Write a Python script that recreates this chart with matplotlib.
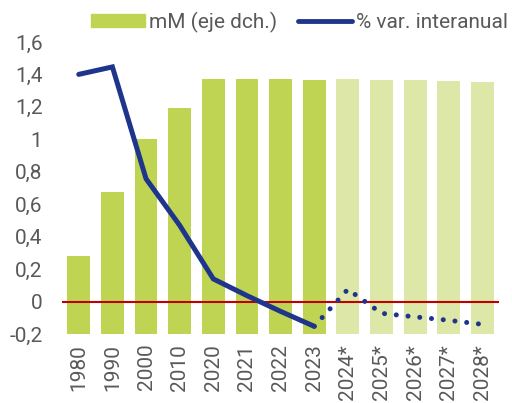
import numpy as np
import matplotlib.pyplot as plt
from matplotlib.patches import Patch
from matplotlib.lines import Line2D

plt.rcParams['font.family'] = ['Roboto', 'DejaVu Sans']

# data
years = ['1980', '1990', '2000', '2010', '2020', '2021', '2022', '2023',
         '2024*', '2025*', '2026*', '2027*', '2028*']
pop_mm = [0.986, 1.141, 1.268, 1.341, 1.411, 1.411, 1.411, 1.408,
          1.411, 1.409, 1.409, 1.407, 1.404]
var_hist = [1.40, 1.446, 0.757, 0.47, 0.14, 0.037, -0.06, -0.152]
var_proj = [-0.152, 0.076, -0.072, -0.094, -0.115, -0.14]
n_hist = 8

yticks = [-0.2, 0, 0.2, 0.4, 0.6, 0.8, 1, 1.2, 1.4, 1.6]
ytick_labels = ['-0,2', '0', '0,2', '0,4', '0,6', '0,8', '1', '1,2', '1,4', '1,6']

bar_col = '#BFD452'
bar_col_light = '#DDE8A8'
line_col = '#1F358C'
red = '#C00000'
txt_col = '#595959'

fig = plt.figure(figsize=(5.12, 4.03), dpi=100)
ax = fig.add_axes([0.121, 0.171, 0.854, 0.725])
ax2 = ax.twinx()

x = np.arange(len(years))
colors = [bar_col] * n_hist + [bar_col_light] * (len(years) - n_hist)
ax2.bar(x, pop_mm, width=0.68, color=colors)
ax2.set_ylim(0.8, 1.5)
ax2.set_yticks([])

ax.set_zorder(ax2.get_zorder() + 1)
ax.patch.set_visible(False)

ax.axhline(0, color=red, lw=1.5)
ax.plot(x[:n_hist], var_hist, color=line_col, lw=3.6, solid_capstyle='round',
        solid_joinstyle='miter')
ax.plot(x[n_hist - 1:], var_proj, color=line_col, lw=3.6,
        linestyle=(0, (0.01, 2.35)), dash_capstyle='round')

ax.set_xlim(-0.5, len(years) - 0.5)
ax.set_ylim(-0.2, 1.6)
ax.set_yticks(yticks)
ax.set_yticklabels(ytick_labels)
ax.set_xticks(x)
ax.set_xticklabels(years, rotation=90)
ax.tick_params(axis='both', length=0, labelsize=15, colors=txt_col)
ax.tick_params(axis='x', pad=7)
ax.tick_params(axis='y', pad=14)
for a in (ax, ax2):
    for s in a.spines.values():
        s.set_visible(False)

handles = [Patch(color=bar_col, label='mM (eje dch.)'),
           Line2D([0], [0], color=line_col, lw=3.5, solid_capstyle='round',
                  label='% var. interanual')]
leg = fig.legend(handles=handles, loc='center', bbox_to_anchor=(0.585, 0.945),
                 ncol=2, frameon=False, fontsize=15, handlelength=2.6,
                 handleheight=0.55, handletextpad=0.2, columnspacing=1.0)
for t in leg.get_texts():
    t.set_color(txt_col)

fig.savefig('out.png', dpi=100)
